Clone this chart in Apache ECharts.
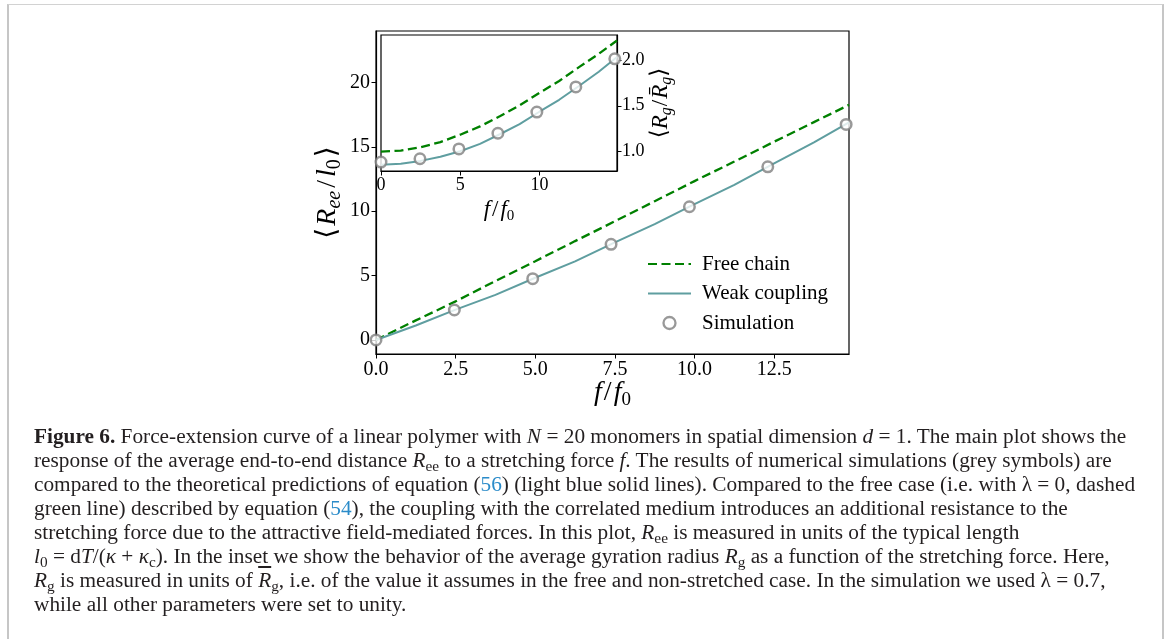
<!DOCTYPE html>
<html><head><meta charset="utf-8">
<script src="https://cdn.jsdelivr.net/npm/echarts@6/dist/echarts.min.js"></script>
<style>
html,body{margin:0;padding:0;background:#fff;width:1167px;height:639px;overflow:hidden;}
#chart{position:absolute;left:0;top:0;width:1167px;height:420px;}
#frame{position:absolute;left:7px;top:4px;width:1153px;height:700px;border-left:2px solid #c6c6c6;border-right:2px solid #c6c6c6;border-top:1px solid #d2d2d2;pointer-events:none;}
#caption{position:absolute;left:34px;top:424px;font-family:'Liberation Serif',serif;font-size:21.3px;line-height:24px;color:#231f20;white-space:nowrap;}
#caption div{height:24px;}
.sb{font-size:0.72em;vertical-align:-0.25em;line-height:0;font-style:normal;}
.ref{color:#2a8bc9;}
.ov{text-decoration:overline;}
</style></head>
<body>
<div id="chart"></div>
<div id="frame"></div>
<div id="caption">
<div><b>Figure 6.</b> Force-extension curve of a linear polymer with <i>N</i> = 20 monomers in spatial dimension <i>d</i> = 1. The main plot shows the</div>
<div>response of the average end-to-end distance <i>R</i><span class="sb">ee</span> to a stretching force <i>f</i>. The results of numerical simulations (grey symbols) are</div>
<div>compared to the theoretical predictions of equation (<span class="ref">56</span>) (light blue solid lines). Compared to the free case (i.e. with λ = 0, dashed</div>
<div>green line) described by equation (<span class="ref">54</span>), the coupling with the correlated medium introduces an additional resistance to the</div>
<div>stretching force due to the attractive field-mediated forces. In this plot, <i>R</i><span class="sb">ee</span> is measured in units of the typical length</div>
<div><i>l</i><span class="sb">0</span> = d<i>T</i>/(<i>κ</i> + <i>κ</i><span class="sb">c</span>). In the inset we show the behavior of the average gyration radius <i>R</i><span class="sb">g</span> as a function of the stretching force. Here,</div>
<div><i>R</i><span class="sb">g</span> is measured in units of <i class="ov">R</i><span class="sb">g</span>, i.e. of the value it assumes in the free and non-stretched case. In the simulation we used λ = 0.7,</div>
<div>while all other parameters were set to unity.</div>
</div>
<script>
// ---- data ----
const seriesNames = ['Free chain', 'Weak coupling', 'Simulation'];
const fMain = [0, 1.25, 2.5, 3.75, 5, 6.25, 7.5, 8.75, 10, 11.25, 12.5, 13.75, 14.85];
const freeMain = [0, 1.52, 3.0, 4.58, 6.12, 7.68, 9.22, 10.78, 12.34, 13.86, 15.4, 16.92, 18.26];
const weakMain = [0, 1.12, 2.36, 3.5, 4.83, 6.1, 7.58, 9.0, 10.55, 12.05, 13.72, 15.35, 16.9];
const simF = [0, 2.46, 4.92, 7.38, 9.84, 12.3, 14.76];
const simMain = [0, 2.33, 4.76, 7.43, 10.35, 13.45, 16.74];
const fInset = [0, 1.25, 2.5, 3.75, 5, 6.25, 7.5, 8.75, 10, 11.25, 12.5, 13.75, 14.9];
const freeInset = [1.0, 1.012, 1.048, 1.105, 1.185, 1.275, 1.385, 1.505, 1.64, 1.77, 1.92, 2.065, 2.21];
const weakInset = [0.858, 0.868, 0.90, 0.945, 1.005, 1.085, 1.19, 1.30, 1.435, 1.565, 1.715, 1.87, 2.03];
const simInset = [0.887, 0.923, 1.03, 1.201, 1.431, 1.705, 2.011];
const mainXTicks = [0, 2.5, 5, 7.5, 10, 12.5];
const mainYTicks = [0, 5, 10, 15, 20];
const insetXTicks = [0, 5, 10];
const insetYTicks = [1.0, 1.5, 2.0];

const zip = (xs, ys) => xs.map((x, i) => [x, ys[i]]);
const GREEN = '#008000', TEAL = '#5f9ea0', GREY = '#808080';
const TF = 'Liberation Serif';
const mathRich = (big, small, pad) => ({
  b: {fontFamily: 'DejaVu Sans', fontSize: big, lineHeight: big + 6, color: '#000', padding: [0, pad, 0, pad]},
  i: {fontFamily: TF, fontStyle: 'italic', fontSize: big, lineHeight: big + 6, color: '#000'},
  n: {fontFamily: TF, fontSize: big, lineHeight: big + 6, color: '#000', padding: [0, pad + 1, 0, pad + 1]},
  s: {fontFamily: TF, fontStyle: 'italic', fontSize: small, lineHeight: small, verticalAlign: 'bottom', color: '#000'},
  u: {fontFamily: TF, fontSize: small, lineHeight: small, verticalAlign: 'bottom', color: '#000'}
});

function axisCommon(ticks, fmt, size, margin) {
  return {
    axisLine: {show: true, onZero: false, lineStyle: {color: '#000', width: 1.2}},
    axisTick: {show: true, length: 4.5, inside: false, lineStyle: {color: '#000', width: 1}, customValues: ticks},
    axisLabel: {customValues: ticks, formatter: fmt, fontFamily: TF, fontSize: size, color: '#000', margin: margin},
    splitLine: {show: false}
  };
}

const chart = echarts.init(document.getElementById('chart'), null, {renderer: 'canvas'});
chart.setOption({
  animation: false,
  backgroundColor: 'transparent',
  grid: [
    {left: 376, top: 31, width: 473, height: 323, show: true, borderColor: '#000', borderWidth: 1.2, backgroundColor: 'transparent'},
    {left: 381, top: 35, width: 236, height: 136, show: true, borderColor: '#000', borderWidth: 1.2, backgroundColor: '#fff'}
  ],
  xAxis: [
    Object.assign({type: 'value', gridIndex: 0, min: 0, max: 14.85,
      name: '{i|f}{n|/}{i|f}{u|0}', nameLocation: 'middle', nameGap: 22, nameMoveOverlap: false,
      nameTextStyle: {rich: mathRich(28, 19, 1)}},
      axisCommon(mainXTicks, v => v.toFixed(1), 20, 6)),
    Object.assign({type: 'value', gridIndex: 1, min: 0, max: 14.9,
      name: '{i|f}{n|/}{i|f}{u|0}', nameLocation: 'middle', nameGap: 24,
      nameTextStyle: {rich: mathRich(23, 15, 1)}},
      axisCommon(insetXTicks, v => String(v), 18, 5))
  ],
  yAxis: [
    Object.assign({type: 'value', gridIndex: 0, min: -1.09, max: 24,
      name: '{b|⟨}{i|R}{s|ee}{n|/}{i|l}{u|0}{b|⟩}', nameLocation: 'middle', nameRotate: 90, nameGap: 31,
      nameTextStyle: {rich: mathRich(28, 20, 2)}},
      axisCommon(mainYTicks, v => String(v), 20, 6)),
    Object.assign({type: 'value', gridIndex: 1, min: 0.79, max: 2.27, position: 'right',
      name: '{b|⟨}{i|R}{s|g}{n|/}{i|R̄}{s|g}{b|⟩}', nameLocation: 'middle', nameRotate: 90, nameGap: 29,
      nameTextStyle: {rich: mathRich(23, 16, 0)}},
      axisCommon(insetYTicks, v => v.toFixed(1), 18, 5))
  ],
  legend: {
    data: [
      {name: seriesNames[0], itemStyle: {opacity: 0}},
      {name: seriesNames[1], itemStyle: {opacity: 0}},
      {name: seriesNames[2], itemStyle: {color: '#fff', borderColor: GREY, borderWidth: 2.3}}
    ],
    orient: 'vertical', left: 642, top: 248.5,
    itemWidth: 43, itemHeight: 12, itemGap: 8.5,
    selectedMode: false,
    textStyle: {fontFamily: TF, fontSize: 21, color: '#000', lineHeight: 12, padding: [0, 0, 0, 6]}
  },
  series: [
    {name: seriesNames[0], type: 'line', xAxisIndex: 0, yAxisIndex: 0, data: zip(fMain, freeMain),
      symbol: 'none', lineStyle: {color: GREEN, width: 2.3, type: [9, 4.5]}, itemStyle: {color: GREEN}, z: 3},
    {name: seriesNames[1], type: 'line', xAxisIndex: 0, yAxisIndex: 0, data: zip(fMain, weakMain),
      symbol: 'none', lineStyle: {color: TEAL, width: 2}, itemStyle: {color: TEAL}, z: 3},
    {name: seriesNames[2], type: 'scatter', xAxisIndex: 0, yAxisIndex: 0, data: zip(simF, simMain),
      symbol: 'circle', symbolSize: 10.5, itemStyle: {color: '#fff', borderColor: GREY, borderWidth: 2.5}, z: 5, clip: false},
    {name: seriesNames[0], type: 'line', xAxisIndex: 1, yAxisIndex: 1, data: zip(fInset, freeInset),
      symbol: 'none', lineStyle: {color: GREEN, width: 2.3, type: [9, 4.5]}, itemStyle: {color: GREEN}, z: 6},
    {name: seriesNames[1], type: 'line', xAxisIndex: 1, yAxisIndex: 1, data: zip(fInset, weakInset),
      symbol: 'none', lineStyle: {color: TEAL, width: 2}, itemStyle: {color: TEAL}, z: 6},
    {name: seriesNames[2], type: 'scatter', xAxisIndex: 1, yAxisIndex: 1, data: zip(simF, simInset),
      symbol: 'circle', symbolSize: 10.5, itemStyle: {color: '#fff', borderColor: GREY, borderWidth: 2.5}, z: 7, clip: false}
  ]
});
</script>
</body></html>
